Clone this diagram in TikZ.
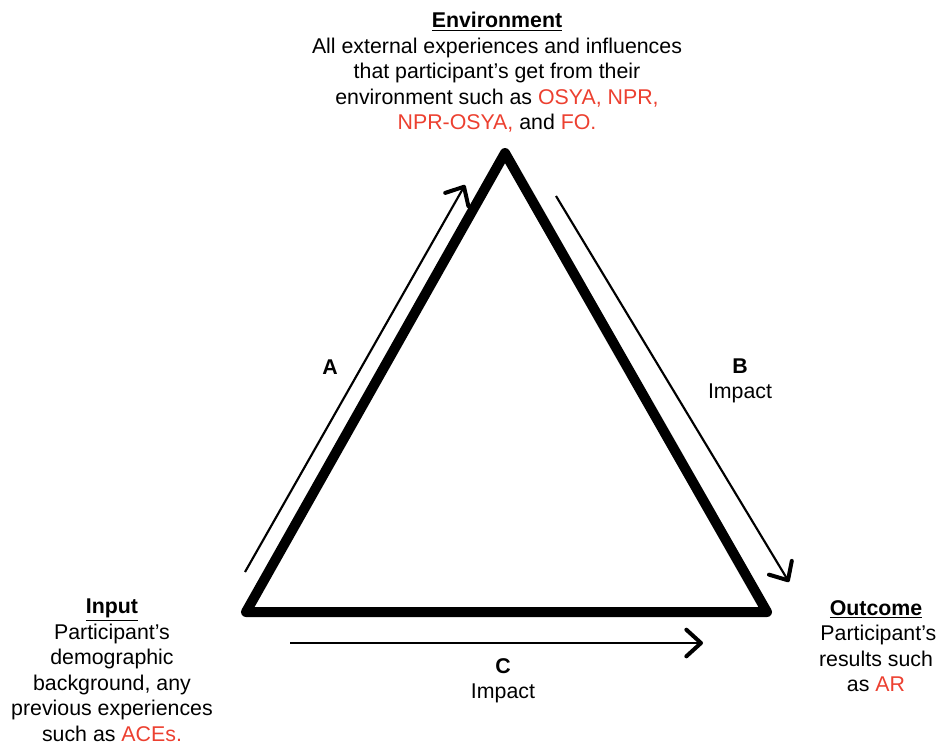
\documentclass[tikz,border=0pt]{standalone}
\usepackage{fontspec}
\setmainfont{Liberation Sans}
\usetikzlibrary{arrows.meta}
\definecolor{redtxt}{RGB}{236,64,48}
\begin{document}
\begin{tikzpicture}[x=0.75pt,y=-0.75pt,
  txt/.style={align=center,inner sep=0pt,font=\fontsize{16}{19.1}\selectfont},
  tri/.style={line width=7.5pt,line join=round},
  flow/.style={line width=1.6pt,-{Straight Barb[length=11pt,width=20pt,line width=3pt,round]}},
  hl/.style={text=redtxt}]
\useasboundingbox (0,0) rectangle (941,744);
\coordinate (T) at (505,153);
\coordinate (L) at (246,612);
\coordinate (R) at (767,612);
\draw[tri] (T) -- (L) -- (R) -- cycle;
\coordinate (a1) at (245,572);
\coordinate (a2) at (465,185);
\coordinate (b1) at (556,196);
\coordinate (b2) at (789,582);
\coordinate (c1) at (290,643);
\coordinate (c2) at (703,643);
\draw[flow] (a1) -- (a2);
\draw[flow] (b1) -- (b2);
\draw[flow] (c1) -- (c2);
\node[txt,anchor=north] (env) at (497,12) {\underline{\textbf{Environment}}\\
All external experiences and influences\\
that participant’s get from their\\
environment such as \textcolor{redtxt}{OSYA, NPR,}\\
\textcolor{redtxt}{NPR-OSYA,} and \textcolor{redtxt}{FO.}};
\node[txt,anchor=north] (inp) at (112,599) {\underline{\textbf{Input}}\\
Participant’s\\
demographic\\
background, any\\
previous experiences\\
such as \textcolor{redtxt}{ACEs.}};
\node[txt,anchor=north] (out) at (876,600) {\underline{\textbf{Outcome}}\\
\phantom{i}Participant’s\\
results such\\
as \textcolor{redtxt}{AR}};
\node[txt] (la) at (330,367) {\textbf{A}};
\node[txt] (lb) at (740,381) {\textbf{B}\\Impact};
\node[txt] (lc) at (503,681) {\textbf{C}\\Impact};
\end{tikzpicture}
\end{document}
